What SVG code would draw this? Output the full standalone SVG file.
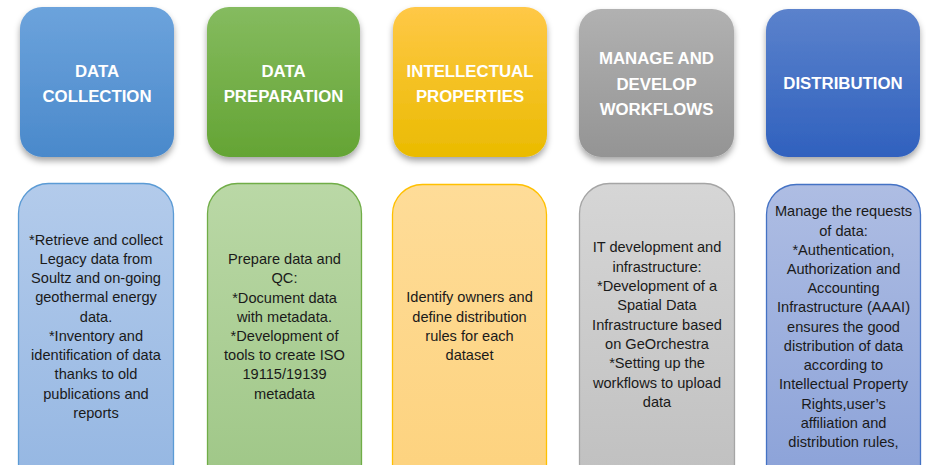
<svg xmlns="http://www.w3.org/2000/svg" width="926" height="465" viewBox="0 0 926 465">
<style>
.title{font-family:"Liberation Sans",Arial,sans-serif;font-weight:bold;font-size:16.8px;fill:#ffffff;text-anchor:middle}
.body{font-family:"Liberation Sans",Arial,sans-serif;font-size:14.6px;fill:#1a1a1a;text-anchor:middle}
.bb{stroke-width:1.3}
</style>
<defs>
<filter id="sh" x="-20%" y="-20%" width="140%" height="150%">
<feDropShadow dx="0" dy="4" stdDeviation="3" flood-color="#000" flood-opacity="0.35"/>
</filter>
<linearGradient id="g1" x1="0" y1="0" x2="0" y2="1"><stop offset="0" stop-color="#6ca3dc"/><stop offset="1" stop-color="#4a89cb"/></linearGradient>
<linearGradient id="g2" x1="0" y1="0" x2="0" y2="1"><stop offset="0" stop-color="#85bb5f"/><stop offset="1" stop-color="#64a434"/></linearGradient>
<linearGradient id="g3" x1="0" y1="0" x2="0" y2="1"><stop offset="0" stop-color="#ffc847"/><stop offset="1" stop-color="#eabb00"/></linearGradient>
<linearGradient id="g4" x1="0" y1="0" x2="0" y2="1"><stop offset="0" stop-color="#b1b1b1"/><stop offset="1" stop-color="#949494"/></linearGradient>
<linearGradient id="g5" x1="0" y1="0" x2="0" y2="1"><stop offset="0" stop-color="#5b82cc"/><stop offset="1" stop-color="#3061be"/></linearGradient>
<linearGradient id="l1" x1="0" y1="0" x2="0" y2="1"><stop offset="0" stop-color="#b3cbeb"/><stop offset="1" stop-color="#94b6e2"/></linearGradient>
<linearGradient id="l2" x1="0" y1="0" x2="0" y2="1"><stop offset="0" stop-color="#bad8a6"/><stop offset="1" stop-color="#9ec686"/></linearGradient>
<linearGradient id="l3" x1="0" y1="0" x2="0" y2="1"><stop offset="0" stop-color="#fedc98"/><stop offset="1" stop-color="#fdd27d"/></linearGradient>
<linearGradient id="l4" x1="0" y1="0" x2="0" y2="1"><stop offset="0" stop-color="#d6d6d6"/><stop offset="1" stop-color="#bfbfbf"/></linearGradient>
<linearGradient id="l5" x1="0" y1="0" x2="0" y2="1"><stop offset="0" stop-color="#aebde3"/><stop offset="1" stop-color="#8aa1d8"/></linearGradient>
</defs>
<rect width="926" height="465" fill="#ffffff"/>

<g id="top-data-collection">
<rect x="20" y="7" width="154" height="150" rx="22" fill="url(#g1)" filter="url(#sh)"/>
<text class="title" x="97" y="77">DATA</text>
<text class="title" x="97" y="102">COLLECTION</text>
</g>
<g id="top-data-preparation">
<rect x="207" y="7" width="153" height="150" rx="22" fill="url(#g2)" filter="url(#sh)"/>
<text class="title" x="283.5" y="77">DATA</text>
<text class="title" x="283.5" y="102">PREPARATION</text>
</g>
<g id="top-intellectual-properties">
<rect x="393" y="7" width="154" height="150" rx="22" fill="url(#g3)" filter="url(#sh)"/>
<text class="title" x="470" y="77">INTELLECTUAL</text>
<text class="title" x="470" y="102">PROPERTIES</text>
</g>
<g id="top-manage-workflows">
<rect x="579" y="9" width="155" height="148" rx="22" fill="url(#g4)" filter="url(#sh)"/>
<text class="title" x="656.5" y="64">MANAGE AND</text>
<text class="title" x="656.5" y="90">DEVELOP</text>
<text class="title" x="656.5" y="115">WORKFLOWS</text>
</g>
<g id="top-distribution">
<rect x="766" y="9" width="154" height="148" rx="22" fill="url(#g5)" filter="url(#sh)"/>
<text class="title" x="843" y="89">DISTRIBUTION</text>
</g>

<g id="body-data-collection">
<rect class="bb" x="18.5" y="183.5" width="155" height="310" rx="30" fill="url(#l1)" stroke="#5b9bd5"/>
<text class="body" x="96" y="245">*Retrieve and collect</text>
<text class="body" x="96" y="264">Legacy data from</text>
<text class="body" x="96" y="283">Soultz and on-going</text>
<text class="body" x="96" y="302">geothermal energy</text>
<text class="body" x="96" y="321.5">data.</text>
<text class="body" x="96" y="341">*Inventory and</text>
<text class="body" x="96" y="360">identification of data</text>
<text class="body" x="96" y="379">thanks to old</text>
<text class="body" x="96" y="398.5">publications and</text>
<text class="body" x="96" y="418">reports</text>
</g>
<g id="body-data-preparation">
<rect class="bb" x="207.5" y="183.5" width="154" height="310" rx="30" fill="url(#l2)" stroke="#70ad47"/>
<text class="body" x="284.5" y="264">Prepare data and</text>
<text class="body" x="284.5" y="283">QC:</text>
<text class="body" x="284.5" y="302.5">*Document data</text>
<text class="body" x="284.5" y="321.5">with metadata.</text>
<text class="body" x="284.5" y="341">*Development of</text>
<text class="body" x="284.5" y="360">tools to create ISO</text>
<text class="body" x="284.5" y="379">19115/19139</text>
<text class="body" x="284.5" y="398.5">metadata</text>
</g>
<g id="body-intellectual-properties">
<rect class="bb" x="392.5" y="184.5" width="154" height="310" rx="30" fill="url(#l3)" stroke="#ffc000"/>
<text class="body" x="469.5" y="302">Identify owners and</text>
<text class="body" x="469.5" y="322">define distribution</text>
<text class="body" x="469.5" y="341">rules for each</text>
<text class="body" x="469.5" y="360">dataset</text>
</g>
<g id="body-manage-workflows">
<rect class="bb" x="579.5" y="183.5" width="155" height="310" rx="30" fill="url(#l4)" stroke="#a5a5a5"/>
<text class="body" x="657" y="252">IT development and</text>
<text class="body" x="657" y="272">infrastructure:</text>
<text class="body" x="657" y="291">*Development of a</text>
<text class="body" x="657" y="310">Spatial Data</text>
<text class="body" x="657" y="330">Infrastructure based</text>
<text class="body" x="657" y="349">on GeOrchestra</text>
<text class="body" x="657" y="368">*Setting up the</text>
<text class="body" x="657" y="388">workflows to upload</text>
<text class="body" x="657" y="407">data</text>
</g>
<g id="body-distribution">
<rect class="bb" x="766.5" y="184.5" width="154" height="310" rx="30" fill="url(#l5)" stroke="#4472c4"/>
<text class="body" x="843.5" y="216">Manage the requests</text>
<text class="body" x="843.5" y="236">of data:</text>
<text class="body" x="843.5" y="255">*Authentication,</text>
<text class="body" x="843.5" y="274">Authorization and</text>
<text class="body" x="843.5" y="293">Accounting</text>
<text class="body" x="843.5" y="312">Infrastructure (AAAI)</text>
<text class="body" x="843.5" y="332">ensures the good</text>
<text class="body" x="843.5" y="351">distribution of data</text>
<text class="body" x="843.5" y="370">according to</text>
<text class="body" x="843.5" y="389">Intellectual Property</text>
<text class="body" x="843.5" y="409">Rights,user’s</text>
<text class="body" x="843.5" y="428">affiliation and</text>
<text class="body" x="843.5" y="447">distribution rules,</text>
</g>

<g id="connectors"></g>
</svg>
